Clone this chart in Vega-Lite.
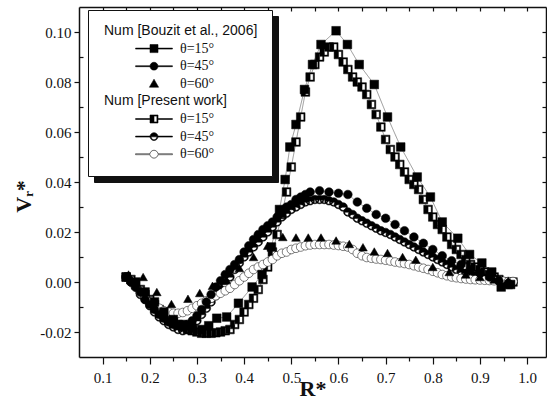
{
"$schema": "https://vega.github.io/schema/vega-lite/v6.json",
"width": 467, "height": 350,
"autosize": {"type": "none"},
"padding": {"left": 79, "top": 7, "right": 1, "bottom": 55},
"background": "white",
"config": {
  "view": {"stroke": null},
  "axis": {"grid": false, "domainColor": "#111", "tickColor": "#111", "labelColor": "#111", "titleColor": "#111",
    "labelFont": "Liberation Serif", "labelFontSize": 15, "titleFont": "Liberation Serif", "titleFontSize": 22, "titleFontWeight": "bold",
    "domainWidth": 1.5, "tickWidth": 1.2}
},
"data": {"values": [
{"s":"P15","r":0.15,"v":0.002},{"s":"P15","r":0.16,"v":0.001},{"s":"P15","r":0.17,"v":-0.001},{"s":"P15","r":0.18,"v":-0.003},{"s":"P15","r":0.19,"v":-0.005},{"s":"P15","r":0.20,"v":-0.007},{"s":"P15","r":0.21,"v":-0.009},{"s":"P15","r":0.22,"v":-0.011},{"s":"P15","r":0.23,"v":-0.013},{"s":"P15","r":0.24,"v":-0.015},{"s":"P15","r":0.25,"v":-0.016},{"s":"P15","r":0.26,"v":-0.017},{"s":"P15","r":0.27,"v":-0.018},{"s":"P15","r":0.28,"v":-0.019},{"s":"P15","r":0.29,"v":-0.0195},{"s":"P15","r":0.30,"v":-0.020},{"s":"P15","r":0.31,"v":-0.0205},{"s":"P15","r":0.32,"v":-0.0205},{"s":"P15","r":0.33,"v":-0.0205},{"s":"P15","r":0.34,"v":-0.0203},{"s":"P15","r":0.35,"v":-0.020},{"s":"P15","r":0.36,"v":-0.0195},{"s":"P15","r":0.37,"v":-0.019},{"s":"P15","r":0.38,"v":-0.017},{"s":"P15","r":0.39,"v":-0.015},{"s":"P15","r":0.40,"v":-0.012},{"s":"P15","r":0.41,"v":-0.009},{"s":"P15","r":0.42,"v":-0.0065},{"s":"P15","r":0.43,"v":-0.003},{"s":"P15","r":0.44,"v":0.001},{"s":"P15","r":0.45,"v":0.006},{"s":"P15","r":0.46,"v":0.012},{"s":"P15","r":0.47,"v":0.019},{"s":"P15","r":0.48,"v":0.027},{"s":"P15","r":0.49,"v":0.036},{"s":"P15","r":0.50,"v":0.046},{"s":"P15","r":0.51,"v":0.056},{"s":"P15","r":0.52,"v":0.066},{"s":"P15","r":0.53,"v":0.076},{"s":"P15","r":0.54,"v":0.082},{"s":"P15","r":0.55,"v":0.087},{"s":"P15","r":0.56,"v":0.090},{"s":"P15","r":0.57,"v":0.092},{"s":"P15","r":0.58,"v":0.094},{"s":"P15","r":0.59,"v":0.094},{"s":"P15","r":0.60,"v":0.091},{"s":"P15","r":0.61,"v":0.088},{"s":"P15","r":0.62,"v":0.085},{"s":"P15","r":0.63,"v":0.082},{"s":"P15","r":0.64,"v":0.080},{"s":"P15","r":0.65,"v":0.078},{"s":"P15","r":0.66,"v":0.075},{"s":"P15","r":0.67,"v":0.071},{"s":"P15","r":0.68,"v":0.067},{"s":"P15","r":0.69,"v":0.062},{"s":"P15","r":0.70,"v":0.057},{"s":"P15","r":0.71,"v":0.053},{"s":"P15","r":0.72,"v":0.050},{"s":"P15","r":0.73,"v":0.047},{"s":"P15","r":0.74,"v":0.044},{"s":"P15","r":0.75,"v":0.041},{"s":"P15","r":0.76,"v":0.039},{"s":"P15","r":0.77,"v":0.037},{"s":"P15","r":0.78,"v":0.033},{"s":"P15","r":0.79,"v":0.029},{"s":"P15","r":0.80,"v":0.026},{"s":"P15","r":0.81,"v":0.023},{"s":"P15","r":0.82,"v":0.021},{"s":"P15","r":0.83,"v":0.018},{"s":"P15","r":0.84,"v":0.015},{"s":"P15","r":0.85,"v":0.013},{"s":"P15","r":0.86,"v":0.011},{"s":"P15","r":0.87,"v":0.009},{"s":"P15","r":0.88,"v":0.007},{"s":"P15","r":0.89,"v":0.006},{"s":"P15","r":0.90,"v":0.005},{"s":"P15","r":0.91,"v":0.004},{"s":"P15","r":0.92,"v":0.003},{"s":"P15","r":0.93,"v":0.002},{"s":"P15","r":0.94,"v":0.001},{"s":"P15","r":0.95,"v":0.000},{"s":"P15","r":0.96,"v":-0.001},{"s":"P15","r":0.97,"v":0.000},
{"s":"P45","r":0.15,"v":0.002},{"s":"P45","r":0.16,"v":0.000},{"s":"P45","r":0.17,"v":-0.002},{"s":"P45","r":0.18,"v":-0.005},{"s":"P45","r":0.19,"v":-0.007},{"s":"P45","r":0.20,"v":-0.0095},{"s":"P45","r":0.21,"v":-0.012},{"s":"P45","r":0.22,"v":-0.014},{"s":"P45","r":0.23,"v":-0.0155},{"s":"P45","r":0.24,"v":-0.017},{"s":"P45","r":0.25,"v":-0.018},{"s":"P45","r":0.26,"v":-0.019},{"s":"P45","r":0.27,"v":-0.0195},{"s":"P45","r":0.28,"v":-0.019},{"s":"P45","r":0.29,"v":-0.0175},{"s":"P45","r":0.30,"v":-0.0155},{"s":"P45","r":0.31,"v":-0.013},{"s":"P45","r":0.32,"v":-0.0105},{"s":"P45","r":0.33,"v":-0.008},{"s":"P45","r":0.34,"v":-0.0055},{"s":"P45","r":0.35,"v":-0.003},{"s":"P45","r":0.36,"v":-0.001},{"s":"P45","r":0.37,"v":0.002},{"s":"P45","r":0.38,"v":0.005},{"s":"P45","r":0.39,"v":0.0076},{"s":"P45","r":0.40,"v":0.010},{"s":"P45","r":0.41,"v":0.012},{"s":"P45","r":0.42,"v":0.014},{"s":"P45","r":0.43,"v":0.016},{"s":"P45","r":0.44,"v":0.018},{"s":"P45","r":0.45,"v":0.020},{"s":"P45","r":0.46,"v":0.022},{"s":"P45","r":0.47,"v":0.024},{"s":"P45","r":0.48,"v":0.026},{"s":"P45","r":0.49,"v":0.0275},{"s":"P45","r":0.50,"v":0.029},{"s":"P45","r":0.51,"v":0.030},{"s":"P45","r":0.52,"v":0.031},{"s":"P45","r":0.53,"v":0.032},{"s":"P45","r":0.54,"v":0.0325},{"s":"P45","r":0.55,"v":0.033},{"s":"P45","r":0.56,"v":0.033},{"s":"P45","r":0.57,"v":0.033},{"s":"P45","r":0.58,"v":0.0325},{"s":"P45","r":0.59,"v":0.032},{"s":"P45","r":0.60,"v":0.031},{"s":"P45","r":0.61,"v":0.030},{"s":"P45","r":0.62,"v":0.028},{"s":"P45","r":0.63,"v":0.027},{"s":"P45","r":0.64,"v":0.0255},{"s":"P45","r":0.65,"v":0.0245},{"s":"P45","r":0.66,"v":0.0235},{"s":"P45","r":0.67,"v":0.0225},{"s":"P45","r":0.68,"v":0.0215},{"s":"P45","r":0.69,"v":0.0205},{"s":"P45","r":0.70,"v":0.0198},{"s":"P45","r":0.71,"v":0.019},{"s":"P45","r":0.72,"v":0.018},{"s":"P45","r":0.73,"v":0.017},{"s":"P45","r":0.74,"v":0.016},{"s":"P45","r":0.75,"v":0.015},{"s":"P45","r":0.76,"v":0.014},{"s":"P45","r":0.77,"v":0.013},{"s":"P45","r":0.78,"v":0.012},{"s":"P45","r":0.79,"v":0.011},{"s":"P45","r":0.80,"v":0.010},{"s":"P45","r":0.81,"v":0.009},{"s":"P45","r":0.82,"v":0.008},{"s":"P45","r":0.83,"v":0.007},{"s":"P45","r":0.84,"v":0.006},{"s":"P45","r":0.85,"v":0.005},{"s":"P45","r":0.86,"v":0.004},{"s":"P45","r":0.87,"v":0.0035},{"s":"P45","r":0.88,"v":0.003},{"s":"P45","r":0.89,"v":0.0025},{"s":"P45","r":0.90,"v":0.002},{"s":"P45","r":0.91,"v":0.0015},{"s":"P45","r":0.92,"v":0.001},{"s":"P45","r":0.93,"v":0.001},{"s":"P45","r":0.94,"v":0.0005},{"s":"P45","r":0.95,"v":0.000},{"s":"P45","r":0.96,"v":0.000},{"s":"P45","r":0.97,"v":0.000},
{"s":"P60","r":0.15,"v":0.002},{"s":"P60","r":0.16,"v":0.000},{"s":"P60","r":0.17,"v":-0.002},{"s":"P60","r":0.18,"v":-0.004},{"s":"P60","r":0.19,"v":-0.006},{"s":"P60","r":0.20,"v":-0.008},{"s":"P60","r":0.21,"v":-0.0095},{"s":"P60","r":0.22,"v":-0.0105},{"s":"P60","r":0.23,"v":-0.0115},{"s":"P60","r":0.24,"v":-0.012},{"s":"P60","r":0.25,"v":-0.0125},{"s":"P60","r":0.26,"v":-0.0125},{"s":"P60","r":0.27,"v":-0.0122},{"s":"P60","r":0.28,"v":-0.0115},{"s":"P60","r":0.29,"v":-0.0105},{"s":"P60","r":0.30,"v":-0.0095},{"s":"P60","r":0.31,"v":-0.0085},{"s":"P60","r":0.32,"v":-0.0075},{"s":"P60","r":0.33,"v":-0.0065},{"s":"P60","r":0.34,"v":-0.0055},{"s":"P60","r":0.35,"v":-0.0045},{"s":"P60","r":0.36,"v":-0.0035},{"s":"P60","r":0.37,"v":-0.0025},{"s":"P60","r":0.38,"v":-0.001},{"s":"P60","r":0.39,"v":0.0005},{"s":"P60","r":0.40,"v":0.002},{"s":"P60","r":0.41,"v":0.0035},{"s":"P60","r":0.42,"v":0.005},{"s":"P60","r":0.43,"v":0.006},{"s":"P60","r":0.44,"v":0.007},{"s":"P60","r":0.45,"v":0.008},{"s":"P60","r":0.46,"v":0.009},{"s":"P60","r":0.47,"v":0.0105},{"s":"P60","r":0.48,"v":0.0115},{"s":"P60","r":0.49,"v":0.012},{"s":"P60","r":0.50,"v":0.013},{"s":"P60","r":0.51,"v":0.0135},{"s":"P60","r":0.52,"v":0.014},{"s":"P60","r":0.53,"v":0.0145},{"s":"P60","r":0.54,"v":0.0148},{"s":"P60","r":0.55,"v":0.015},{"s":"P60","r":0.56,"v":0.015},{"s":"P60","r":0.57,"v":0.015},{"s":"P60","r":0.58,"v":0.015},{"s":"P60","r":0.59,"v":0.0148},{"s":"P60","r":0.60,"v":0.0146},{"s":"P60","r":0.61,"v":0.0143},{"s":"P60","r":0.62,"v":0.014},{"s":"P60","r":0.63,"v":0.013},{"s":"P60","r":0.64,"v":0.0115},{"s":"P60","r":0.65,"v":0.0105},{"s":"P60","r":0.66,"v":0.0098},{"s":"P60","r":0.67,"v":0.0095},{"s":"P60","r":0.68,"v":0.0092},{"s":"P60","r":0.69,"v":0.009},{"s":"P60","r":0.70,"v":0.0087},{"s":"P60","r":0.71,"v":0.0084},{"s":"P60","r":0.72,"v":0.008},{"s":"P60","r":0.73,"v":0.0077},{"s":"P60","r":0.74,"v":0.0074},{"s":"P60","r":0.75,"v":0.007},{"s":"P60","r":0.76,"v":0.0065},{"s":"P60","r":0.77,"v":0.006},{"s":"P60","r":0.78,"v":0.0055},{"s":"P60","r":0.79,"v":0.005},{"s":"P60","r":0.80,"v":0.0043},{"s":"P60","r":0.81,"v":0.0037},{"s":"P60","r":0.82,"v":0.003},{"s":"P60","r":0.83,"v":0.0025},{"s":"P60","r":0.84,"v":0.002},{"s":"P60","r":0.85,"v":0.0017},{"s":"P60","r":0.86,"v":0.0014},{"s":"P60","r":0.87,"v":0.0012},{"s":"P60","r":0.88,"v":0.001},{"s":"P60","r":0.89,"v":0.0009},{"s":"P60","r":0.90,"v":0.0008},{"s":"P60","r":0.91,"v":0.0007},{"s":"P60","r":0.92,"v":0.0006},{"s":"P60","r":0.93,"v":0.0005},{"s":"P60","r":0.94,"v":0.0004},{"s":"P60","r":0.95,"v":0.0003},{"s":"P60","r":0.96,"v":0.0002},{"s":"P60","r":0.97,"v":0.0002},
{"s":"B15","r":0.15,"v":0.002},{"s":"B15","r":0.17,"v":0.000},{"s":"B15","r":0.19,"v":-0.004},{"s":"B15","r":0.21,"v":-0.008},{"s":"B15","r":0.23,"v":-0.012},{"s":"B15","r":0.25,"v":-0.015},{"s":"B15","r":0.27,"v":-0.017},{"s":"B15","r":0.29,"v":-0.0185},{"s":"B15","r":0.31,"v":-0.019},{"s":"B15","r":0.325,"v":-0.0175},{"s":"B15","r":0.342,"v":-0.0145},{"s":"B15","r":0.363,"v":-0.014},{"s":"B15","r":0.388,"v":-0.0085},{"s":"B15","r":0.417,"v":-0.002},{"s":"B15","r":0.438,"v":0.003},{"s":"B15","r":0.458,"v":0.014},{"s":"B15","r":0.475,"v":0.029},{"s":"B15","r":0.487,"v":0.041},{"s":"B15","r":0.497,"v":0.054},{"s":"B15","r":0.51,"v":0.063},{"s":"B15","r":0.528,"v":0.077},{"s":"B15","r":0.545,"v":0.087},{"s":"B15","r":0.563,"v":0.095},{"s":"B15","r":0.595,"v":0.1005},{"s":"B15","r":0.619,"v":0.095},{"s":"B15","r":0.644,"v":0.087},{"s":"B15","r":0.676,"v":0.079},{"s":"B15","r":0.704,"v":0.066},{"s":"B15","r":0.732,"v":0.054},{"s":"B15","r":0.767,"v":0.042},{"s":"B15","r":0.795,"v":0.034},{"s":"B15","r":0.82,"v":0.024},{"s":"B15","r":0.853,"v":0.0175},{"s":"B15","r":0.878,"v":0.011},{"s":"B15","r":0.904,"v":0.0076},{"s":"B15","r":0.925,"v":0.004},{"s":"B15","r":0.945,"v":-0.002},{"s":"B15","r":0.965,"v":-0.001},
{"s":"B45","r":0.15,"v":0.002},{"s":"B45","r":0.16,"v":0.000},{"s":"B45","r":0.17,"v":-0.002},{"s":"B45","r":0.18,"v":-0.004},{"s":"B45","r":0.19,"v":-0.007},{"s":"B45","r":0.20,"v":-0.009},{"s":"B45","r":0.21,"v":-0.011},{"s":"B45","r":0.22,"v":-0.013},{"s":"B45","r":0.23,"v":-0.0145},{"s":"B45","r":0.24,"v":-0.016},{"s":"B45","r":0.25,"v":-0.017},{"s":"B45","r":0.26,"v":-0.0175},{"s":"B45","r":0.27,"v":-0.0175},{"s":"B45","r":0.28,"v":-0.017},{"s":"B45","r":0.29,"v":-0.0155},{"s":"B45","r":0.30,"v":-0.0135},{"s":"B45","r":0.31,"v":-0.011},{"s":"B45","r":0.32,"v":-0.008},{"s":"B45","r":0.33,"v":-0.005},{"s":"B45","r":0.34,"v":-0.002},{"s":"B45","r":0.35,"v":0.0005},{"s":"B45","r":0.36,"v":0.003},{"s":"B45","r":0.37,"v":0.005},{"s":"B45","r":0.38,"v":0.007},{"s":"B45","r":0.39,"v":0.009},{"s":"B45","r":0.40,"v":0.012},{"s":"B45","r":0.41,"v":0.0145},{"s":"B45","r":0.42,"v":0.017},{"s":"B45","r":0.43,"v":0.019},{"s":"B45","r":0.44,"v":0.021},{"s":"B45","r":0.45,"v":0.0225},{"s":"B45","r":0.46,"v":0.024},{"s":"B45","r":0.47,"v":0.026},{"s":"B45","r":0.48,"v":0.028},{"s":"B45","r":0.49,"v":0.030},{"s":"B45","r":0.50,"v":0.031},{"s":"B45","r":0.51,"v":0.033},{"s":"B45","r":0.52,"v":0.034},{"s":"B45","r":0.53,"v":0.035},{"s":"B45","r":0.54,"v":0.036},{"s":"B45","r":0.56,"v":0.0365},{"s":"B45","r":0.58,"v":0.036},{"s":"B45","r":0.60,"v":0.0355},{"s":"B45","r":0.62,"v":0.035},{"s":"B45","r":0.64,"v":0.032},{"s":"B45","r":0.66,"v":0.0295},{"s":"B45","r":0.68,"v":0.027},{"s":"B45","r":0.70,"v":0.0255},{"s":"B45","r":0.72,"v":0.023},{"s":"B45","r":0.74,"v":0.0205},{"s":"B45","r":0.76,"v":0.018},{"s":"B45","r":0.78,"v":0.0155},{"s":"B45","r":0.80,"v":0.013},{"s":"B45","r":0.82,"v":0.0105},{"s":"B45","r":0.84,"v":0.0085},{"s":"B45","r":0.86,"v":0.007},{"s":"B45","r":0.88,"v":0.005},{"s":"B45","r":0.90,"v":0.0035},{"s":"B45","r":0.92,"v":0.002},{"s":"B45","r":0.94,"v":0.0005},{"s":"B45","r":0.96,"v":-0.0005},
{"s":"B60","r":0.155,"v":0.003},{"s":"B60","r":0.186,"v":0.002},{"s":"B60","r":0.215,"v":-0.004},{"s":"B60","r":0.246,"v":-0.0088},{"s":"B60","r":0.281,"v":-0.0067},{"s":"B60","r":0.306,"v":-0.0044},{"s":"B60","r":0.333,"v":-0.0015},{"s":"B60","r":0.362,"v":0.001},{"s":"B60","r":0.39,"v":0.0056},{"s":"B60","r":0.42,"v":0.010},{"s":"B60","r":0.45,"v":0.0145},{"s":"B60","r":0.482,"v":0.018},{"s":"B60","r":0.51,"v":0.0178},{"s":"B60","r":0.536,"v":0.0178},{"s":"B60","r":0.563,"v":0.0178},{"s":"B60","r":0.595,"v":0.0166},{"s":"B60","r":0.623,"v":0.0152},{"s":"B60","r":0.652,"v":0.0139},{"s":"B60","r":0.676,"v":0.0122},{"s":"B60","r":0.704,"v":0.0116},{"s":"B60","r":0.736,"v":0.010},{"s":"B60","r":0.764,"v":0.0089},{"s":"B60","r":0.80,"v":0.006},{"s":"B60","r":0.835,"v":0.004},{"s":"B60","r":0.87,"v":0.003},{"s":"B60","r":0.90,"v":0.002},{"s":"B60","r":0.93,"v":0.001},{"s":"B60","r":0.96,"v":0.0005}
]},
"resolve": {"axis": {"x": "independent", "y": "independent"}},
"layer": [
{
  "transform": [{"filter": "datum.s != 'B60'"}, {"calculate": "'z' + datum.s", "as": "s2"}],
  "mark": {"type": "line", "stroke": "#555", "strokeWidth": 0.6},
  "encoding": {
    "x": {"field": "r", "type": "quantitative", "scale": {"domain": [0.05, 1.04], "nice": false, "zero": false},
      "axis": {"orient": "bottom", "values": [0.1,0.2,0.3,0.4,0.5,0.6,0.7,0.8,0.9,1.0], "format": ".1f", "tickSize": 7, "labelPadding": 6, "title": "R*", "titleY": 38, "titleBaseline": "alphabetic"}},
    "y": {"field": "v", "type": "quantitative", "scale": {"domain": [-0.03, 0.11], "nice": false, "zero": false},
      "axis": {"orient": "left", "values": [-0.02,0,0.02,0.04,0.06,0.08,0.1], "labelExpr": "replace(format(datum.value,'.2f'),'\u2212','-')", "tickSize": 5, "labelPadding": 3, "title": "V\u1d63*", "titleY": 189, "titlePadding": 4}},
    "strokeDash": {"field": "s2", "type": "nominal",
      "scale": {"domain": ["zH1","zB15","zB45","zB60","zH2","zP15","zP45","zP60"], "range": [[1,0],[1,0],[1,0],[1,0],[1,0],[1,0],[1,0],[1,0]]},
      "legend": {"orient": "none", "legendX": 9, "legendY": 3, "title": null, "padding": 14,
        "fillColor": "white", "strokeColor": "#111",
        "symbolSize": 64, "symbolStrokeWidth": 0.6, "symbolOffset": 45, "rowPadding": 3.6, "labelLimit": 300, "zindex": 2,
        "symbolStrokeColor": "black",
        "symbolFillColor": {"expr": "datum.value=='zP60' ? 'white' : 'black'"},
        "symbolOpacity": {"expr": "indexof(datum.value,'H')>=0 ? 0 : 1"},
        "symbolType": {"expr": "datum.value=='zB15' ? 'M-4.6,-0.12H-1V-1H1V-0.12H4.6V0.12H1V1H-1V0.12H-4.6Z' : datum.value=='zB45' ? 'M-4.6,-0.12H-0.99A1,1,0,0,1,0.99,-0.12H4.6V0.12H0.99A1,1,0,0,1,-0.99,0.12H-4.6Z' : datum.value=='zB60' ? 'M0,-1.15L1.15,0.85H-1.15Z' : datum.value=='zP15' ? 'M-4.6,-0.12H-1V-1H1V-0.12H4.6V0.12H1V1H-1V0.12H-4.6Z M0,-0.72V0.72H0.72V-0.72Z' : datum.value=='zP45' ? 'M-4.6,-0.12H-0.99A1,1,0,0,1,0.99,-0.12H4.6V0.12H0.99A1,1,0,0,1,-0.99,0.12H-4.6Z M-0.72,0.06A0.72,0.72,0,0,0,0.72,0.06Z' : 'M-4.6,-0.12H-0.99A1,1,0,0,1,0.99,-0.12H4.6V0.12H0.99A1,1,0,0,1,-0.99,0.12H-4.6Z'"},
        "labelColor": "#111", "labelFontSize": 14,
        "labelFont": {"expr": "indexof(datum.value,'H')>=0 ? 'Liberation Sans' : 'Liberation Serif'"},
        "labelOffset": {"expr": "indexof(datum.value,'H')>=0 ? -57 : 19"},
        "labelExpr": "indexof(datum.value,'H1')>=0 ? 'Num [Bouzit et al., 2006]' : indexof(datum.value,'H2')>=0 ? 'Num [Present work]' : indexof(datum.value,'15')>=0 ? '\u03b8=15\u00b0' : indexof(datum.value,'45')>=0 ? '\u03b8=45\u00b0' : '\u03b8=60\u00b0'"}}
  }
},
{
  "transform": [{"filter": "datum.s == 'P15'"}],
  "mark": {"type": "point", "shape": "square", "filled": true, "fill": "white", "opacity": 1, "size": 72, "strokeWidth": 0},
  "encoding": {
    "x": {"field": "r", "type": "quantitative", "scale": {"domain": [0.05, 1.04], "nice": false, "zero": false},
      "axis": {"orient": "bottom", "values": [0.15,0.25,0.35,0.45,0.55,0.65,0.75,0.85,0.95], "tickSize": 4, "labels": false, "domain": false, "title": null}},
    "y": {"field": "v", "type": "quantitative", "scale": {"domain": [-0.03, 0.11], "nice": false, "zero": false},
      "axis": {"orient": "left", "values": [-0.01,0.01,0.03,0.05,0.07,0.09], "tickSize": -4, "labels": false, "domain": false, "title": null}}
  }
},
{
  "transform": [{"filter": "datum.s == 'P45'"}],
  "mark": {"type": "point", "shape": "circle", "filled": true, "fill": "white", "opacity": 1, "size": 74, "strokeWidth": 0},
  "encoding": {
    "x": {"field": "r", "type": "quantitative", "scale": {"domain": [0.05, 1.04], "nice": false, "zero": false},
      "axis": {"orient": "top", "values": [0.1,0.15,0.2,0.25,0.3,0.35,0.4,0.45,0.5,0.55,0.6,0.65,0.7,0.75,0.8,0.85,0.9,0.95,1.0], "tickSize": -4, "labels": false, "title": null}},
    "y": {"field": "v", "type": "quantitative", "scale": {"domain": [-0.03, 0.11], "nice": false, "zero": false},
      "axis": {"orient": "right", "values": [-0.02,-0.01,0,0.01,0.02,0.03,0.04,0.05,0.06,0.07,0.08,0.09,0.1], "tickSize": -4, "labels": false, "title": null}}
  }
},
{
  "mark": {"type": "point", "filled": true, "opacity": 1, "size": 75, "strokeWidth": 0.5},
  "encoding": {
    "x": {"field": "r", "type": "quantitative", "scale": {"domain": [0.05, 1.04], "nice": false, "zero": false}, "axis": null},
    "y": {"field": "v", "type": "quantitative", "scale": {"domain": [-0.03, 0.11], "nice": false, "zero": false}, "axis": null},
    "fill": {"condition": {"test": "datum.s == 'P60'", "value": "white"}, "value": "black"},
    "stroke": {"value": "black"},
    "shape": {"field": "s", "type": "nominal",
      "scale": {"domain": ["H1","B15","B45","B60","H2","P15","P45","P60"],
        "range": ["circle","square","circle","triangle-up","circle","M-1,-1H1V1H-1Z M0,-0.72V0.72H0.72V-0.72Z","M-1,0A1,1,0,0,1,1,0A1,1,0,0,1,-1,0Z M-0.72,0.06A0.72,0.72,0,0,0,0.72,0.06Z","circle"]},
      "legend": {"orient": "none", "legendX": 15, "legendY": 9, "title": null, "padding": 14,
        "fillColor": "#111", "strokeColor": "#111",
        "symbolSize": 64, "symbolOffset": 45, "rowPadding": 3.6, "labelLimit": 300, "zindex": 1,
        "symbolOpacity": 0, "labelOpacity": 0, "labelFontSize": 14,
        "labelFont": {"expr": "indexof(datum.value,'H')>=0 ? 'Liberation Sans' : 'Liberation Serif'"},
        "labelOffset": {"expr": "indexof(datum.value,'H')>=0 ? -57 : 19"},
        "labelExpr": "indexof(datum.value,'H1')>=0 ? 'Num [Bouzit et al., 2006]' : indexof(datum.value,'H2')>=0 ? 'Num [Present work]' : indexof(datum.value,'15')>=0 ? '\u03b8=15\u00b0' : indexof(datum.value,'45')>=0 ? '\u03b8=45\u00b0' : '\u03b8=60\u00b0'"}}
  }
}
]
}
